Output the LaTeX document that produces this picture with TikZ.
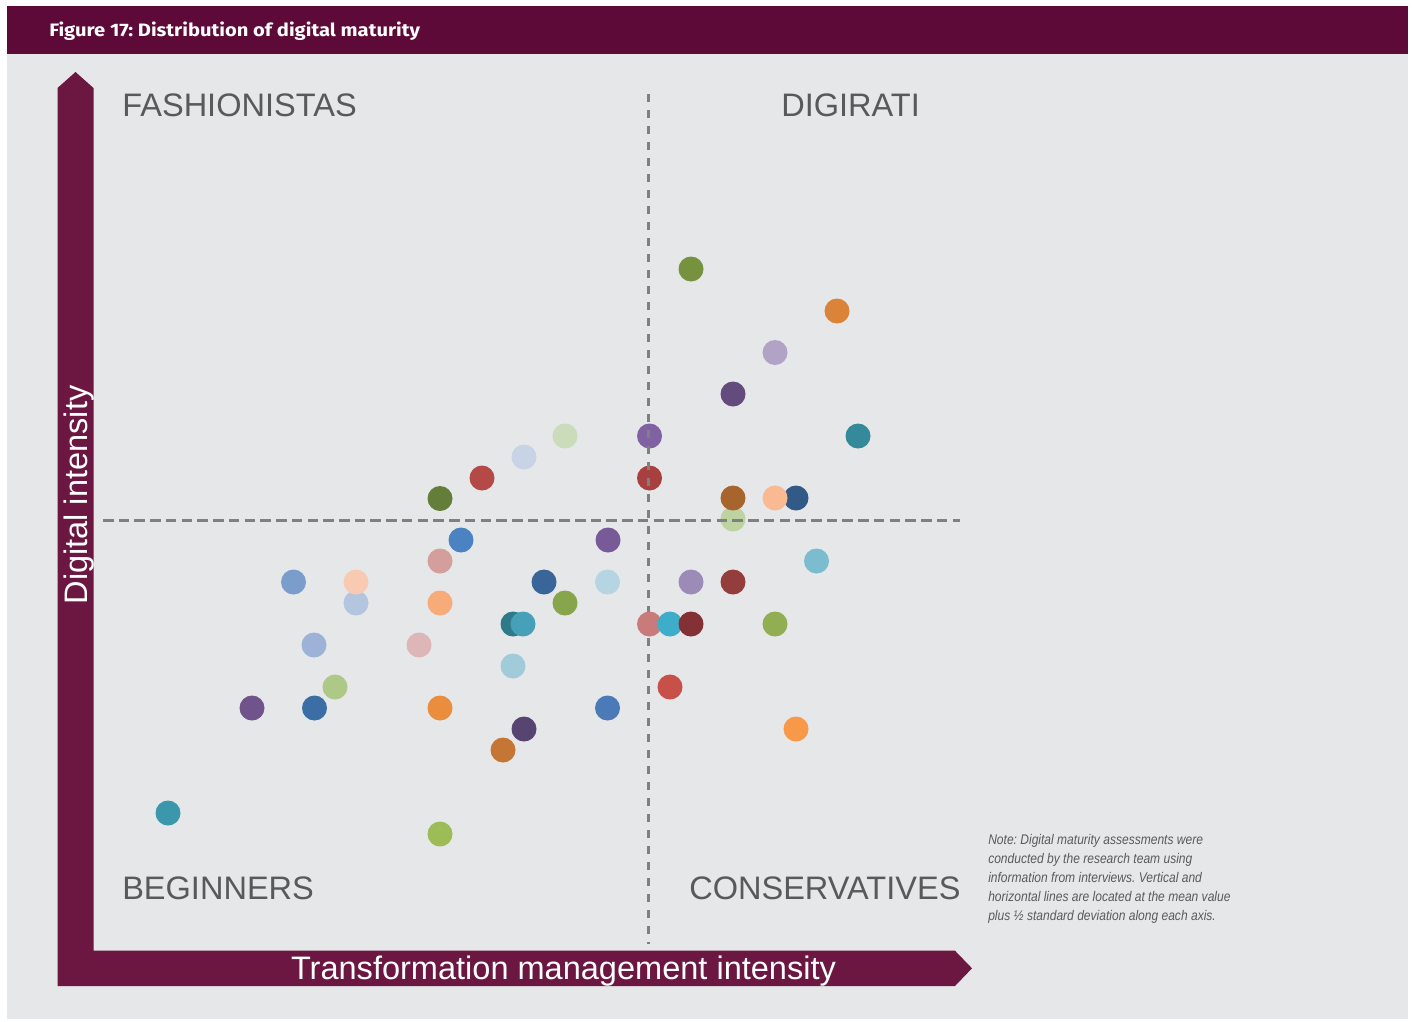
\documentclass[tikz,border=0pt]{standalone}
\usepackage{fontspec}
\setmainfont{Liberation Sans}
\newfontfamily\titlefont[FakeStretch=1.12]{Fira Sans}
\newfontfamily\notefont[FakeStretch=0.86]{Liberation Sans}
\frenchspacing
\definecolor{titlebg}{HTML}{5E0A39}
\definecolor{axiscol}{HTML}{6B1741}
\definecolor{panelbg}{HTML}{E6E7E9}
\definecolor{quadcol}{HTML}{58595B}
\definecolor{notecol}{HTML}{5A5A5A}
\definecolor{dashcol}{HTML}{808080}
\definecolor{c1}{HTML}{76923F}
\definecolor{c2}{HTML}{DC833A}
\definecolor{c3}{HTML}{B1A3C6}
\definecolor{c4}{HTML}{634B7E}
\definecolor{c5}{HTML}{348A9B}
\definecolor{c6}{HTML}{8062A3}
\definecolor{c7}{HTML}{CBDCBA}
\definecolor{c8}{HTML}{C8D4E6}
\definecolor{c9}{HTML}{B44A47}
\definecolor{c10}{HTML}{A8403F}
\definecolor{c11}{HTML}{647D38}
\definecolor{c12}{HTML}{A8642D}
\definecolor{c13}{HTML}{F9B993}
\definecolor{c14}{HTML}{315A87}
\definecolor{c15}{HTML}{BDD3A1}
\definecolor{c16}{HTML}{4A82C2}
\definecolor{c17}{HTML}{785A99}
\definecolor{c18}{HTML}{D49E9C}
\definecolor{c19}{HTML}{7BBCCF}
\definecolor{c20}{HTML}{7B9DCB}
\definecolor{c21}{HTML}{F9CAB2}
\definecolor{c22}{HTML}{396598}
\definecolor{c23}{HTML}{B5D5E2}
\definecolor{c24}{HTML}{9D8BB7}
\definecolor{c25}{HTML}{943D3D}
\definecolor{c26}{HTML}{B4C5DF}
\definecolor{c27}{HTML}{F7AB79}
\definecolor{c28}{HTML}{87A54B}
\definecolor{c29}{HTML}{2F7A8A}
\definecolor{c30}{HTML}{45A0B8}
\definecolor{c31}{HTML}{C97B7B}
\definecolor{c32}{HTML}{3EADC9}
\definecolor{c33}{HTML}{843135}
\definecolor{c34}{HTML}{91AE52}
\definecolor{c35}{HTML}{9DB2D6}
\definecolor{c36}{HTML}{DDB6B7}
\definecolor{c37}{HTML}{A2CBDA}
\definecolor{c38}{HTML}{ADC887}
\definecolor{c39}{HTML}{C75049}
\definecolor{c40}{HTML}{6F538A}
\definecolor{c41}{HTML}{3A6EA5}
\definecolor{c42}{HTML}{EA8D3D}
\definecolor{c43}{HTML}{4A7BB6}
\definecolor{c44}{HTML}{584470}
\definecolor{c45}{HTML}{F8994A}
\definecolor{c46}{HTML}{C57634}
\definecolor{c47}{HTML}{3A97AC}
\definecolor{c48}{HTML}{9CBD55}
\begin{document}
\begin{tikzpicture}[x=0.75pt,y=-0.75pt,
  dot/.style={circle, draw=none, inner sep=0pt, minimum size=18.75pt},
  quad/.style={font=\fontsize{24.4}{28}\selectfont, text=quadcol, inner sep=0pt},
  axislabel/.style={font=\fontsize{24.4}{28}\selectfont, text=white, inner sep=0pt},
  meanline/.style={draw=dashcol, line width=2.25pt}]
\useasboundingbox (0,0) rectangle (1413,1021);
\fill[white] (0,0) rectangle (1413,1021);
\fill[panelbg] (7,54) rectangle (1408,1019);
\fill[titlebg] (7,6) rectangle (1408,54);
\node[anchor=base west, inner sep=0pt, text=white, font=\titlefont\bfseries\fontsize{13.5}{16}\selectfont] (title) at (49,36.5) {Figure 17: Distribution of digital maturity};
% axes
\fill[axiscol] (57.5,986) -- (57.5,88) -- (75.5,72) -- (93.5,88) -- (93.5,950.7) -- (955,950.7) -- (972,968.3) -- (955,986) -- cycle;
\node[axislabel, anchor=base, rotate=90] (ylabel) at (87,495) {Digital intensity};
\node[axislabel, anchor=base] (xlabel) at (563.5,979) {Transformation management intensity};
% quadrant labels
\node[quad, anchor=base west] (fash) at (122,116) {FASHIONISTAS};
\node[quad, anchor=base west] (digi) at (781,116) {DIGIRATI};
\node[quad, anchor=base west] (begi) at (122,899) {BEGINNERS};
\node[quad, anchor=base west] (cons) at (689,899) {CONSERVATIVES};
% dots under the mean lines
\foreach \x/\y/\c in {649.5/436/c6, 649.5/478/c10, 733/519/c15}
  \node[dot, fill=\c] (dot-\c) at (\x,\y) {};
% mean lines
\coordinate (vtop) at (648.5,94);
\coordinate (vbot) at (648.5,944);
\coordinate (hleft) at (103,520.5);
\coordinate (hright) at (960,520.5);
\draw[meanline, dash pattern=on 5.8pt off 6.2pt] (vtop) -- (vbot);
\draw[meanline, dash pattern=on 7.9pt off 3.9pt] (hleft) -- (hright);
% remaining dots
\foreach \x/\y/\c in {691/269/c1, 837/311/c2, 775/352.5/c3, 733/394/c4, 858/436/c5,
  565/436/c7, 524/457/c8, 482/478/c9, 440/498.5/c11, 733/498/c12, 796/498/c14, 775/498/c13,
  461/540/c16, 608/540/c17, 440/561/c18, 816.5/561/c19, 293.5/582/c20, 356/603/c26, 356/582/c21,
  544/582/c22, 607.5/582/c23, 691/582/c24, 733/582/c25, 440/603/c27, 565/603/c28,
  513/624/c29, 523/624/c30, 649.5/624/c31, 670/624/c32, 691/624/c33, 775/624/c34,
  314/645/c35, 419/645/c36, 513/666/c37, 335/687/c38, 670/687/c39, 252/708/c40,
  314.5/708/c41, 440/708/c42, 607.5/708/c43, 524/729/c44, 796/729/c45, 503/750/c46,
  168/813/c47, 440/834/c48}
  \node[dot, fill=\c] (dot-\c) at (\x,\y) {};
% note
\node[anchor=north west, inner sep=0pt, align=left, text=notecol,
  font=\notefont\itshape\fontsize{10.5}{14.3}\selectfont] (note) at (988,834)
  {Note: Digital maturity assessments were\\conducted by the research team using\\information from interviews. Vertical and\\horizontal lines are located at the mean value\\plus ½ standard deviation along each axis.};
\end{tikzpicture}
\end{document}
